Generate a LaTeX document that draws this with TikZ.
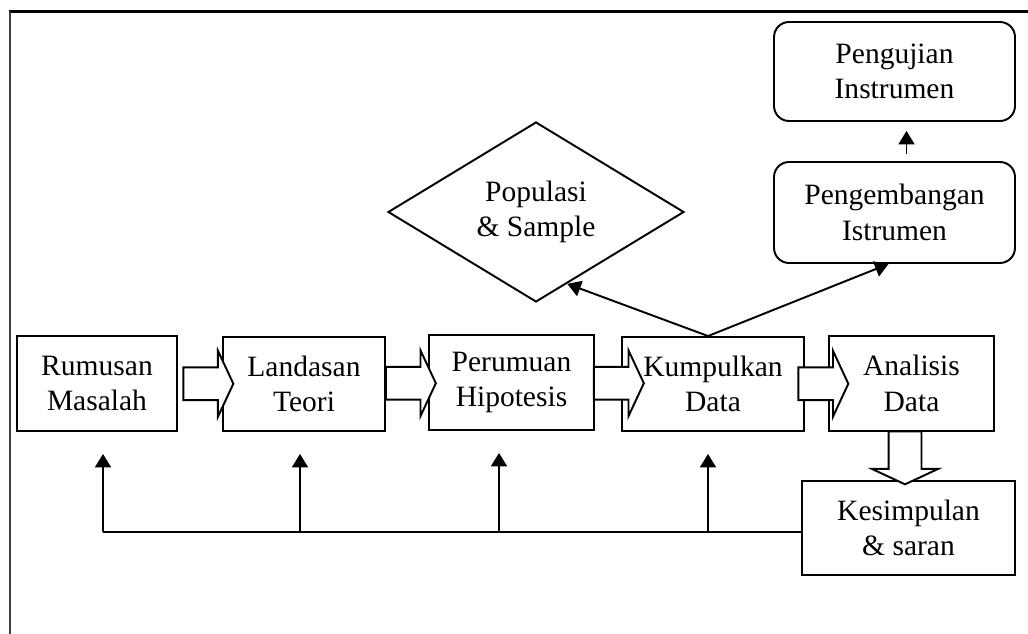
\documentclass[tikz,border=0pt]{standalone}
\usepackage{fontspec}
\setmainfont{Liberation Serif}
\usetikzlibrary{shapes.geometric, shapes.arrows, arrows.meta, positioning, calc}
\tikzset{
  box/.style={rectangle, draw=black, line width=1.1pt, align=center, inner sep=0pt, font=\fontsize{16.8}{20.3}\selectfont},
  roundbox/.style={box, rounded corners=0.3cm},
  decision/.style={diamond, draw=black, line width=1.1pt, align=center, inner sep=0pt, aspect=1.64, minimum width=5.92cm, minimum height=3.6cm, font=\fontsize{16.8}{20.3}\selectfont},
  blockarrow/.style={single arrow, draw=black, fill=white, line width=1.1pt, inner xsep=0pt, inner ysep=0.31cm, minimum height=1cm, single arrow head extend=0.33cm, single arrow tip angle=130},
  arrow/.style={line width=1.1pt, -{Triangle[length=0.27cm, width=0.32cm]}},
  line/.style={line width=1.1pt}
}
\begin{document}
\begin{tikzpicture}[x=0.02cm, y=-0.02cm]
    \useasboundingbox (0,0) rectangle (1028,634);
    % frame
    \draw[line width=1.7pt] (9,12) -- (1028,12);
    \draw[line width=1pt, black!75] (10,12) -- (10,634);

    % Defining nodes
    \node[box, minimum width=3.2cm, minimum height=1.9cm] (rumusan) at (97,383.5) {Rumusan\\Masalah};
    \node[box, minimum width=3.24cm, minimum height=1.88cm] (landasan) at (304,384) {Landasan\\Teori};
    \node[box, minimum width=3.3cm, minimum height=1.9cm] (perumuan) at (511.5,382.5) {Perumuan\\Hipotesis};
    \node[box, minimum width=3.64cm, minimum height=1.88cm] (kumpulkan) at (713,384) {Kumpulkan\\Data};
    \node[box, minimum width=3.3cm, minimum height=1.9cm] (analisis) at (911.5,383.5) {Analisis\\Data};
    \node[box, minimum width=4.26cm, minimum height=1.88cm] (kesimpulan) at (908.5,528) {Kesimpulan\\\& saran};
    \node[decision] (populasi) at (536,212) {Populasi\\\& Sample};
    \node[roundbox, minimum width=4.82cm, minimum height=2.02cm] (pengembangan) at (894.5,212.5) {Pengembangan\\Istrumen};
    \node[roundbox, minimum width=4.82cm, minimum height=1.98cm] (pengujian) at (894.5,71.5) {Pengujian\\Instrumen};

    % Block arrows
    \node[blockarrow, xshift=0.09cm] (b1) at ($(rumusan.east)!0.5!(landasan.west)$) {};
    \node[blockarrow] (b2) at ($(landasan.east)!0.5!(perumuan.west)$) {};
    \node[blockarrow, xshift=0.14cm] (b3) at ($(perumuan.east)!0.5!(kumpulkan.west)$) {};
    \node[blockarrow, xshift=0.06cm] (b4) at ($(kumpulkan.east)!0.5!(analisis.west)$) {};
    \node[blockarrow, rotate=-90, minimum height=1.06cm] (b5) at ($(analisis.south)!0.5!(kesimpulan.north)+(-5,-2)$) {};

    % Drawing arrows
    \coordinate (split) at ($(kumpulkan.north)+(-5,0)$);
    \draw[arrow] (split) -- ($(populasi.south)!0.21!(populasi.east)$);
    \draw[arrow] (split) -- ($(pengembangan.south)+(-6,0)$);
    \draw[arrow, shorten <=0.14cm, shorten >=0.18cm] ($(pengembangan.north)+(12,0)$) -- ($(pengujian.south)+(12,0)$);

    \coordinate (fb1) at (103,532);
    \coordinate (fb2) at (300,532);
    \coordinate (fb3) at (499,532);
    \coordinate (fb4) at (708,532);
    \draw[line] (kesimpulan.west |- fb1) -- (fb1);
    \draw[arrow, shorten >=0.44cm] (fb1) -- (fb1 |- rumusan.south);
    \draw[arrow, shorten >=0.44cm] (fb2) -- (fb2 |- landasan.south);
    \draw[arrow, shorten >=0.44cm] (fb3) -- (fb3 |- perumuan.south);
    \draw[arrow, shorten >=0.44cm] (fb4) -- (fb4 |- kumpulkan.south);
\end{tikzpicture}
\end{document}
